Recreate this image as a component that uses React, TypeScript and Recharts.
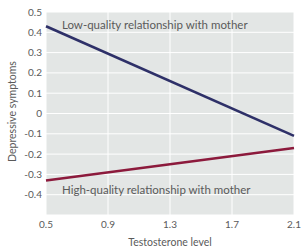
import React from 'react';
import { LineChart, Line, XAxis, YAxis, CartesianGrid, ReferenceDot } from 'recharts';

const testosterone = [0.5, 2.1];
const lowQuality = [0.43, -0.11];
const highQuality = [-0.33, -0.17];
const xTicks = [0.5, 0.9, 1.3, 1.7, 2.1];
const yTicks = [0.5, 0.4, 0.3, 0.2, 0.1, 0, -0.1, -0.2, -0.3, -0.4];
const lowLabel = 'Low-quality relationship with mother';
const highLabel = 'High-quality relationship with mother';

const data = testosterone.map((t, i) => ({ t, low: lowQuality[i], high: highQuality[i] }));

const FONT = 'Lato, "Open Sans", sans-serif';
const TXT = '#5a5a5a';

export default function App() {
  return (
    <div style={{ position: 'absolute', left: 0, top: 0, fontFamily: FONT }}>
      <LineChart width={304} height={249} data={data} margin={{ top: 12, right: 10, bottom: 0, left: 0 }}>
        <CartesianGrid fill="#e3e6e5" stroke="#ffffff" strokeWidth={1} />
        <XAxis
          dataKey="t"
          type="number"
          domain={[0.5, 2.1]}
          ticks={xTicks}
          tickFormatter={(v: number) => v.toFixed(1)}
          axisLine={false}
          tickLine={false}
          tickSize={0}
          tickMargin={6}
          height={34}
          tick={{ fill: TXT, fontSize: 10, fontFamily: FONT }}
          label={{ value: 'Testosterone level', position: 'insideBottom', offset: 3, fill: TXT, fontSize: 10.5, fontFamily: FONT }}
        />
        <YAxis
          type="number"
          domain={[-0.5, 0.5]}
          ticks={yTicks}
          interval={0}
          tickFormatter={(v: number) => (v === 0 ? '0' : v.toFixed(1))}
          axisLine={false}
          tickLine={false}
          tickSize={0}
          tickMargin={4}
          width={46}
          tick={{ fill: TXT, fontSize: 10, fontFamily: FONT }}
          label={{
            content: (props: any) => {
              const vb = props.viewBox || { x: 0, y: 12, width: 46, height: 203 };
              const cx = vb.x + 12;
              const cy = vb.y + vb.height / 2 - 2;
              return (
                <text x={cx} y={cy} transform={`rotate(-90, ${cx}, ${cy})`} textAnchor="middle" dominantBaseline="central" fill={TXT} fontSize={10.5} fontFamily={FONT}>
                  Depressive symptoms
                </text>
              );
            },
          }}
        />
        <Line dataKey="low" stroke="#2e3068" strokeWidth={2.6} dot={false} isAnimationActive={false} />
        <Line dataKey="high" stroke="#8c1a3c" strokeWidth={2.6} dot={false} isAnimationActive={false} />
        <ReferenceDot x={0.603} y={0.438} r={0} fill="none" stroke="none" label={{ value: lowLabel, position: 'right', offset: 0, fill: TXT, fontSize: 11.5, fontFamily: FONT }} />
        <ReferenceDot x={0.603} y={-0.377} r={0} fill="none" stroke="none" label={{ value: highLabel, position: 'right', offset: 0, fill: TXT, fontSize: 11.5, fontFamily: FONT }} />
      </LineChart>
    </div>
  );
}
